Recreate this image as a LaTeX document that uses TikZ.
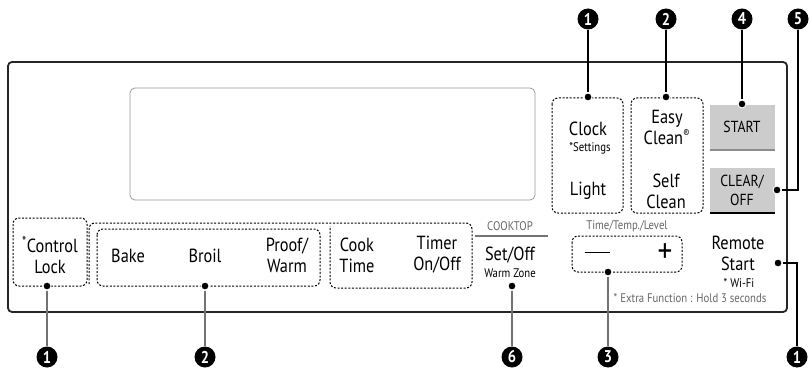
\documentclass[tikz,border=0pt]{standalone}
\usepackage{fontspec}
\setmainfont[FakeStretch=0.86]{PT Sans}
\tikzset{
  num/.style={circle,fill=black,text=white,inner sep=0pt,minimum size=21pt,font=\bfseries\fontsize{17}{17}\selectfont},
  dot/.style={circle,fill=black,draw=white,line width=1pt,inner sep=0pt,minimum size=8pt},
  grp/.style={draw,line width=1pt,dash pattern=on 2pt off 1.6pt,rounded corners=6pt},
  lbl/.style={align=center,font=\fontsize{19}{21}\selectfont},
  small/.style={align=center,font=\fontsize{12.5}{14}\selectfont},
  note/.style={small,text=black!60},
  btn/.style={fill=black!20},
  lead/.style={line width=1.3pt},
  leadg/.style={line width=1.3pt,black!55}
}
\begin{document}
\begin{tikzpicture}[x=1pt,y=-1pt]
  \useasboundingbox (0,0) rectangle (810,374);
  % panel and display
  \draw[line width=1.8pt,black!85,rounded corners=4pt] (8,62) rectangle (787,312);
  \draw[line width=0.8pt,black!40,rounded corners=5pt] (130,88) rectangle (535,200);

  % upper right keys
  \draw[grp] (552,98) rectangle (623,213);
  \draw[grp] (631,98) rectangle (703,213);
  \fill[btn] (710,105) rectangle (775,150);
  \draw[line width=2pt,black!45] (710,150) -- (775,150);
  \fill[btn] (710,168) rectangle (775,213);
  \draw[line width=2pt,black] (710,213) -- (775,213);
  \node[lbl] (clock) at (588,129) {Clock};
  \node[small] (sett) at (590,148) {*Settings};
  \node[lbl] (light) at (588,191) {Light};
  \node[lbl] (easy) at (667,127) {Easy\\Clean\textsuperscript{\fontsize{11}{11}\selectfont\textregistered}};
  \node[lbl] (self) at (666,191) {Self\\Clean};
  \node[lbl,font=\fontsize{16}{19}\selectfont] (start) at (742,127) {START};
  \node[lbl,font=\fontsize{16}{19}\selectfont] (clear) at (742,190) {CLEAR/\\OFF};

  % lower row
  \draw[grp] (13,218) rectangle (87,286);
  \draw[grp] (97,229) rectangle (320,286);
  \draw[grp] (89,284) -- (89,223) -- (472,223) -- (472,288) -- (330,288) -- (330,226);
  \node[lbl] (lock) at (50,255) {\textsuperscript{\fontsize{14}{14}\selectfont*}Control\\Lock};
  \node[lbl] (bake) at (128,256) {Bake};
  \node[lbl] (broil) at (205,256) {Broil};
  \node[lbl] (proof) at (287,255) {Proof/\\Warm};
  \node[lbl] (cook) at (357,255) {Cook\\Time};
  \node[lbl] (timer) at (437,255) {Timer\\On/Off};

  \node[note] (ctop) at (510,226) {COOKTOP};
  \draw[line width=1.3pt,black!55] (475,236) -- (548,236);
  \node[lbl] (setoff) at (510,255) {Set/Off};
  \node[small] (wzone) at (510,273) {Warm Zone};

  \node[note] (ttl) at (627,226) {Time/Temp./Level};
  \draw[grp] (572,236) rectangle (682,272);
  \node[lbl] (minus) at (597,254) {\rule[0.3ex]{25pt}{1.6pt}};
  \node[lbl,font=\fontsize{34}{34}\selectfont] (plus) at (665,253) {+};

  \node[lbl] (remote) at (738,253) {Remote\\Start};
  \node[small] (wifi) at (739,283) {* Wi-Fi};
  \node[note] (extra) at (690,298) {* Extra Function : Hold 3 seconds};

  % callouts
  \node[num] (t1) at (588,19) {1};
  \node[num] (t2) at (666,19) {2};
  \node[num] (t4) at (742,19) {4};
  \node[num] (t5) at (798,19) {5};
  \node[num] (b1) at (47,357) {1};
  \node[num] (b2) at (205,357) {2};
  \node[num] (b6) at (512,357) {6};
  \node[num] (b3) at (608,357) {3};
  \node[num] (b9) at (797,357) {1};

  \node[dot] (d1) at (588,97) {};
  \node[dot] (d2) at (666,97) {};
  \node[dot] (d4) at (742,104) {};
  \node[dot] (d5) at (777,190) {};
  \node[dot] (e1) at (47,286) {};
  \node[dot] (e2) at (205,286) {};
  \node[dot] (e6) at (512,286) {};
  \node[dot] (e3) at (608,272) {};
  \node[dot] (e9) at (778,263) {};

  \draw[lead] (t1) -- (d1);
  \draw[lead] (t2) -- (d2);
  \draw[lead] (t4) -- (d4);
  \draw[lead] (t5) |- (d5);
  \draw[leadg] (e1) -- (b1);
  \draw[leadg] (e2) -- (b2);
  \draw[leadg] (e6) -- (b6);
  \draw[leadg] (e3) -- (b3);
  \draw[lead] (e9) -| (b9);
\end{tikzpicture}
\end{document}
